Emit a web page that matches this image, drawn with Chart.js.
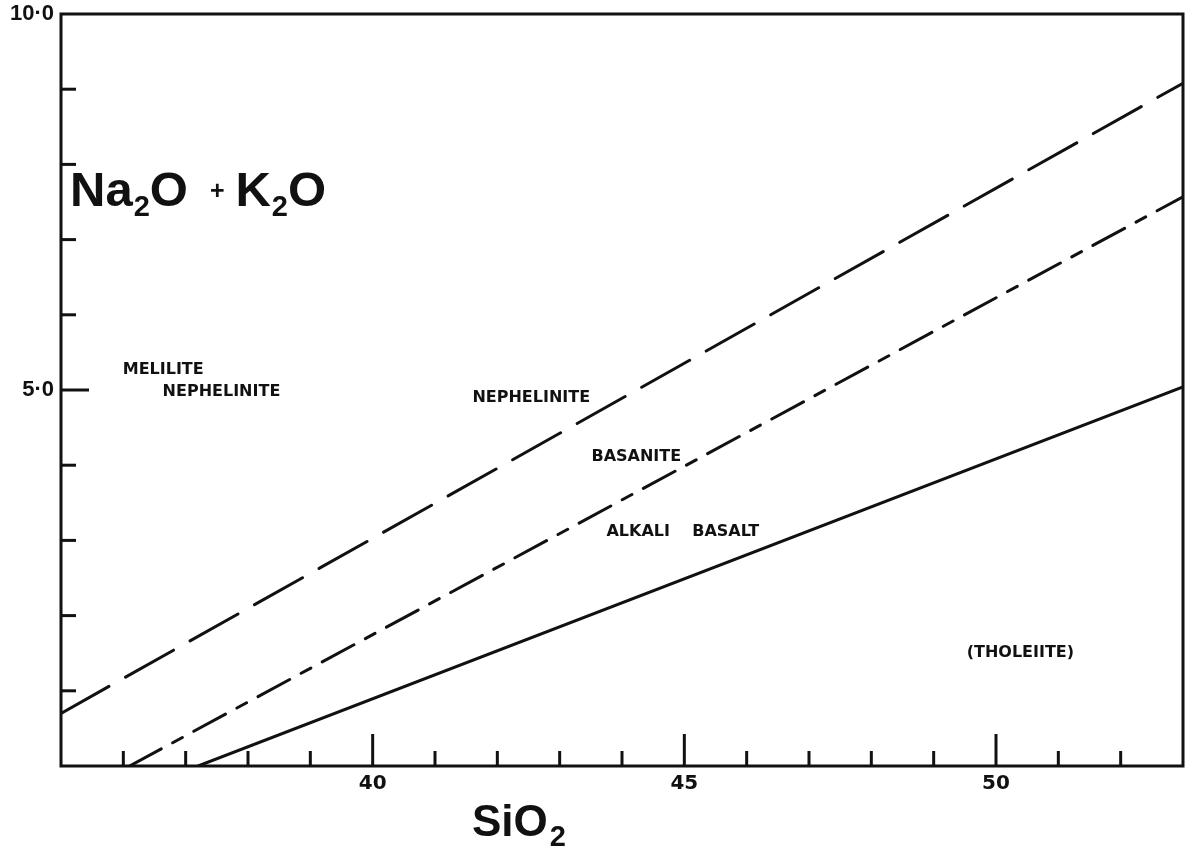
<!DOCTYPE html>
<html>
<head>
<meta charset="utf-8">
<script src="https://cdn.jsdelivr.net/npm/chart.js@4.4.1/dist/chart.umd.min.js"></script>
<style>
  html, body { margin: 0; padding: 0; background: #fff; }
  #wrap { width: 1193px; height: 853px; }
</style>
</head>
<body>
<div id="wrap"><canvas id="c" width="1193" height="853"></canvas></div>
<script>
// Boundary lines in the total-alkali vs silica field (wt %)
const nephelinitePts = [{ x: 35.0, y: 0.70 }, { x: 53.0, y: 9.08 }];   // long dashes
const basanitePts    = [{ x: 36.1, y: 0.00 }, { x: 53.0, y: 7.57 }];   // dash-dot
const alkaliPts      = [{ x: 37.2, y: 0.00 }, { x: 53.0, y: 5.04 }];   // solid

// Axis tick marks and labels
const xTicks = [36, 37, 38, 39, 40, 41, 42, 43, 44, 45, 46, 47, 48, 49, 50, 51, 52];
const xMajor = [40, 45, 50];
const yTicks = [1, 2, 3, 4, 5, 6, 7, 8, 9];
const yMajor = [5];
const yLabelled = { 5: '5·0', 10: '10·0' };

// Field names and where they sit (data coordinates, left edge / vertical centre)
const fieldNames = ['MELILITE', 'NEPHELINITE', 'NEPHELINITE', 'BASANITE', 'ALKALI    BASALT', '(THOLEIITE)'];
const fieldX     = [35.99, 36.63, 41.60, 43.51, 43.75, 49.53];
const fieldY     = [5.27, 4.97, 4.89, 4.11, 3.11, 1.50];

const INK = '#111';

const decorations = {
  id: 'decorations',
  afterDatasetsDraw(chart) {
    const { ctx, chartArea: a, scales: { x, y } } = chart;
    ctx.save();
    ctx.strokeStyle = INK;
    ctx.lineCap = 'butt';

    // frame
    ctx.lineWidth = 3;
    ctx.strokeRect(a.left, a.top, a.right - a.left, a.bottom - a.top);

    // inward tick marks
    ctx.lineWidth = 3;
    xTicks.forEach(v => {
      const px = x.getPixelForValue(v);
      const len = xMajor.includes(v) ? 32 : 15;
      ctx.beginPath(); ctx.moveTo(px, a.bottom); ctx.lineTo(px, a.bottom - len); ctx.stroke();
    });
    yTicks.forEach(v => {
      const py = y.getPixelForValue(v);
      const len = yMajor.includes(v) ? 28 : 15;
      ctx.beginPath(); ctx.moveTo(a.left, py); ctx.lineTo(a.left + len, py); ctx.stroke();
    });

    // field names
    ctx.fillStyle = INK;
    ctx.font = 'bold 16px "DejaVu Sans"';
    ctx.textAlign = 'left';
    ctx.textBaseline = 'middle';
    fieldNames.forEach((t, i) => {
      ctx.fillText(t, x.getPixelForValue(fieldX[i]), y.getPixelForValue(fieldY[i]));
    });

    // formula with subscripts, drawn piece by piece
    function formula(parts, startX, baseY, big, small, drop) {
      let cx = startX;
      ctx.textBaseline = 'alphabetic';
      parts.forEach(p => {
        cx += p.pre || 0;
        if (p.sub) {
          ctx.font = 'bold ' + small + 'px "Liberation Sans"';
          ctx.fillText(p.t, cx, baseY + drop);
        } else if (p.op) {
          ctx.font = 'bold ' + Math.round(big * 0.5) + 'px "Liberation Sans"';
          ctx.fillText(p.t, cx, baseY - big * 0.14);
        } else {
          ctx.font = 'bold ' + big + 'px "Liberation Sans"';
          ctx.fillText(p.t, cx, baseY);
        }
        cx += ctx.measureText(p.t).width + (p.post || 0);
      });
    }
    formula([
      { t: 'Na', post: 1 }, { t: '2', sub: true }, { t: 'O', post: 22 },
      { t: '+', op: true, post: 11 },
      { t: 'K', post: 1 }, { t: '2', sub: true }, { t: 'O' }
    ], 70, 206, 49, 29, 10);

    formula([{ t: 'SiO', post: 2 }, { t: '2', sub: true }], 472, 836, 44, 29, 10);

    ctx.restore();
  }
};

const lineStyle = { borderColor: INK, borderWidth: 3, pointRadius: 0, showLine: true, fill: false, tension: 0, borderCapStyle: 'round' };

new Chart(document.getElementById('c'), {
  type: 'scatter',
  data: {
    datasets: [
      Object.assign({ label: 'Nephelinite / basanite', data: nephelinitePts, borderDash: [55, 19] }, lineStyle),
      Object.assign({ label: 'Basanite / alkali basalt', data: basanitePts, borderDash: [36, 13, 11, 13] }, lineStyle),
      Object.assign({ label: 'Alkali basalt / tholeiite', data: alkaliPts }, lineStyle)
    ]
  },
  options: {
    responsive: false,
    animation: false,
    devicePixelRatio: 1,
    layout: { padding: { left: 0, right: 10, top: 14, bottom: 0 } },
    plugins: { legend: { display: false }, tooltip: { enabled: false } },
    scales: {
      x: {
        type: 'linear', min: 35, max: 53,
        border: { display: false },
        grid: { display: false, drawTicks: false },
        afterFit(s) { s.height = 87; s.paddingLeft = 0; s.paddingRight = 0; },
        afterBuildTicks(s) { s.ticks = xMajor.map(v => ({ value: v })); },
        ticks: {
          padding: 6, color: INK, maxRotation: 0,
          font: { family: 'DejaVu Sans', size: 20, weight: 'bold' },
          callback: v => String(v)
        }
      },
      y: {
        type: 'linear', min: 0, max: 10,
        border: { display: false },
        grid: { display: false, drawTicks: false },
        afterFit(s) { s.width = 61; s.paddingTop = 0; s.paddingBottom = 0; },
        afterBuildTicks(s) { s.ticks = Object.keys(yLabelled).map(v => ({ value: +v })); },
        ticks: {
          padding: 7, color: INK,
          font: { family: 'Liberation Sans', size: 22, weight: 'bold' },
          callback: v => yLabelled[v] || ''
        }
      }
    }
  },
  plugins: [decorations]
});
</script>
</body>
</html>
